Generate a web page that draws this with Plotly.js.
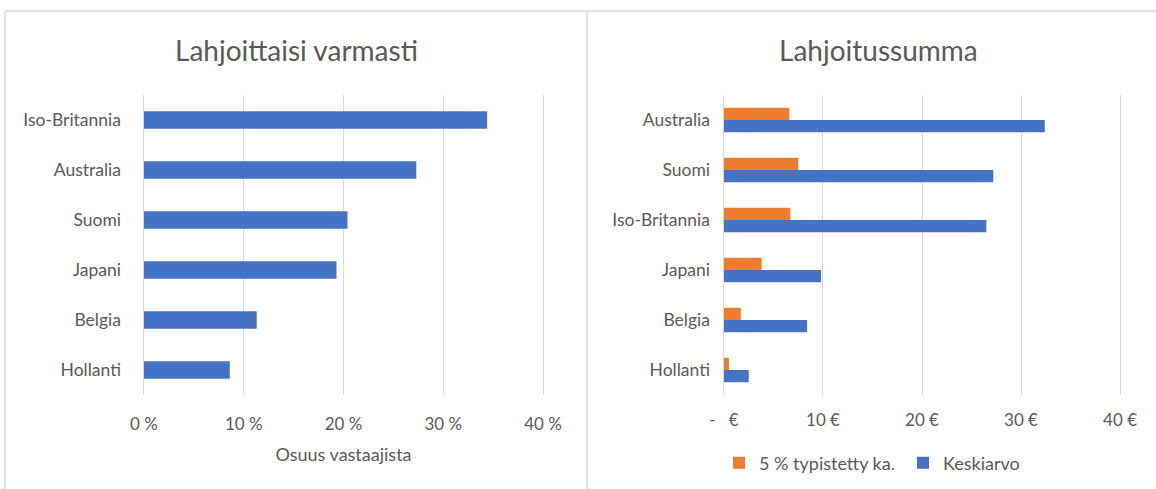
<!DOCTYPE html>
<html>
<head>
<meta charset="utf-8">
<script src="https://cdn.plot.ly/plotly-3.0.1.min.js"></script>
<style>html,body{margin:0;padding:0;background:#fff;}</style>
</head>
<body>
<div id="chart" style="width:1156px;height:489px;"></div>
<script>
// Left panel: share of respondents who would surely donate (%)
const countriesLeft = ['Iso-Britannia', 'Australia', 'Suomi', 'Japani', 'Belgia', 'Hollanti'];
const shareLeft = [34.4, 27.3, 20.4, 19.3, 11.3, 8.6];
const ticksLeft = [0, 10, 20, 30, 40];
const tickTextLeft = ['0 %', '10 %', '20 %', '30 %', '40 %'];

// Right panel: donation amount (€)
const countriesRight = ['Australia', 'Suomi', 'Iso-Britannia', 'Japani', 'Belgia', 'Hollanti'];
const trimmedMean = [6.6, 7.5, 6.7, 3.8, 1.7, 0.5];
const meanValue = [32.4, 27.2, 26.5, 9.8, 8.4, 2.5];
const ticksRight = [0, 10, 20, 30, 40];
const tickTextRight = ['-\u00a0\u00a0\u00a0€', '10 €', '20 €', '30 €', '40 €'];

const W = 1156, H = 489;
const px = v => v / W;
const py = v => 1 - v / H;
const FONT = 'Lato, "Open Sans", sans-serif';
const GREY = '#595959';
const GRID = '#d9d9d9';

const traces = [
  {
    type: 'bar', orientation: 'h', name: 'Lahjoittaisi varmasti',
    x: shareLeft, y: countriesLeft, xaxis: 'x', yaxis: 'y',
    marker: {color: '#4472C4'}, width: 0.35, showlegend: false,
    hoverinfo: 'x+y'
  },
  {
    type: 'bar', orientation: 'h', name: '5 % typistetty ka.',
    x: trimmedMean, y: countriesRight, xaxis: 'x2', yaxis: 'y2',
    marker: {color: '#ED7D31'}, width: 0.245, offset: -0.245
  },
  {
    type: 'bar', orientation: 'h', name: 'Keskiarvo',
    x: meanValue, y: countriesRight, xaxis: 'x2', yaxis: 'y2',
    marker: {color: '#4472C4'}, width: 0.245, offset: 0
  }
];

// Slight padding on the value range so the 0 and 40 gridlines are kept by Plotly
const xCommon = {
  range: [-0.3, 40.3], tickmode: 'array', showgrid: true, gridcolor: GRID, gridwidth: 1,
  zeroline: false, showline: false, ticks: '', fixedrange: true,
  tickfont: {family: FONT, size: 17, color: GREY}
};
const yCommon = {
  type: 'category', autorange: 'reversed', showgrid: false, zeroline: false,
  showline: false, ticks: '', fixedrange: true,
  tickfont: {family: FONT, size: 17.5, color: GREY}
};

const layout = {
  width: W, height: H,
  margin: {l: 0, r: 0, t: 0, b: 0},
  paper_bgcolor: '#ffffff', plot_bgcolor: '#ffffff',
  barmode: 'overlay',
  font: {family: FONT, color: GREY},
  xaxis: Object.assign({}, xCommon, {
    domain: [px(141), px(546)], anchor: 'y',
    tickvals: ticksLeft, ticktext: tickTextLeft, ticklabelstandoff: 17,
    title: {text: 'Osuus vastaajista', font: {family: FONT, size: 18, color: GREY}, standoff: 15}
  }),
  yaxis: Object.assign({}, yCommon, {
    domain: [py(395), py(95)], anchor: 'x', ticklabelstandoff: 19
  }),
  xaxis2: Object.assign({}, xCommon, {
    domain: [px(721), px(1123)], anchor: 'y2',
    tickvals: ticksRight, ticktext: tickTextRight, ticklabelstandoff: 13
  }),
  yaxis2: Object.assign({}, yCommon, {
    domain: [py(395), py(95)], anchor: 'x2', ticklabelstandoff: 10
  }),
  legend: {
    orientation: 'h', x: px(719), xanchor: 'left', y: py(463), yanchor: 'middle',
    entrywidth: 139,
    font: {family: FONT, size: 18, color: GREY}, bgcolor: 'rgba(0,0,0,0)'
  },
  annotations: [
    {text: 'Lahjoittaisi varmasti', xref: 'paper', yref: 'paper', x: px(296), y: py(50),
     xanchor: 'center', yanchor: 'middle', showarrow: false,
     font: {family: FONT, size: 28, color: GREY}},
    {text: 'Lahjoitussumma', xref: 'paper', yref: 'paper', x: px(878), y: py(50),
     xanchor: 'center', yanchor: 'middle', showarrow: false,
     font: {family: FONT, size: 28, color: GREY}}
  ],
  shapes: [
    {type: 'line', xref: 'paper', yref: 'paper', x0: px(5), x1: 1, y0: py(11), y1: py(11),
     line: {color: GRID, width: 1.5}},
    {type: 'line', xref: 'paper', yref: 'paper', x0: px(5), x1: px(5), y0: py(11), y1: 0,
     line: {color: GRID, width: 1.5}},
    {type: 'line', xref: 'paper', yref: 'paper', x0: px(587), x1: px(587), y0: py(11), y1: 0,
     line: {color: GRID, width: 1.5}}
  ]
};

Plotly.newPlot('chart', traces, layout, {displayModeBar: false, staticPlot: true});
</script>
</body>
</html>
